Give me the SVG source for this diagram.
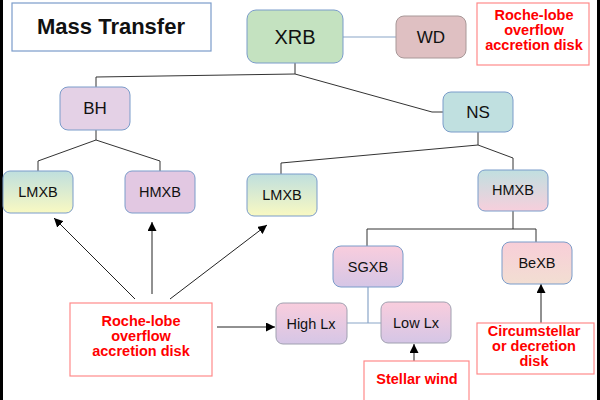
<svg xmlns="http://www.w3.org/2000/svg" width="600" height="400" viewBox="0 0 600 400">
<defs>
<linearGradient id="gLM" x1="0" y1="0" x2="0" y2="1"><stop offset="0" stop-color="#bfdfde"/><stop offset="1" stop-color="#f9f9c2"/></linearGradient>
<linearGradient id="gHM" x1="0" y1="0" x2="0" y2="1"><stop offset="0" stop-color="#c0dfe0"/><stop offset="1" stop-color="#f7cfdc"/></linearGradient>
<linearGradient id="gPL" x1="0" y1="0" x2="0" y2="1"><stop offset="0" stop-color="#f9cddd"/><stop offset="1" stop-color="#d5c6e6"/></linearGradient>
<linearGradient id="gBe" x1="0" y1="0" x2="0" y2="1"><stop offset="0" stop-color="#f8ced8"/><stop offset="1" stop-color="#f2ded2"/></linearGradient>
<marker id="ah" viewBox="0 0 10 10" refX="10" refY="5" markerWidth="9" markerHeight="9" markerUnits="userSpaceOnUse" orient="auto"><path d="M0,0 L10,5 L0,10 z" fill="#000"/></marker>
</defs>
<style>
.n{stroke:#7b9cca;stroke-width:1}
.t{font-family:"Liberation Sans",Arial,sans-serif;fill:#111;text-anchor:middle}
.r{font-family:"Liberation Sans",Arial,sans-serif;font-weight:bold;fill:#ff0000;text-anchor:middle;font-size:14.5px}
.rb{fill:#fff;stroke:#ff8a8a;stroke-width:1.2}
.c{fill:none;stroke:#333;stroke-width:1}
.cb{fill:none;stroke:#8aa6c8;stroke-width:1.2}
.a{fill:none;stroke:#222;stroke-width:1}
</style>
<rect x="0" y="0" width="600" height="400" fill="#fff"/>
<rect x="0" y="0" width="3" height="400" fill="#000"/>
<rect x="597" y="0" width="3" height="400" fill="#000"/>

<g id="connectors">
<path class="c" d="M295,63 V74 L96,77 V87"/>
<path class="c" d="M295,74 L432,112 H443"/>
<path class="cb" d="M343,37 H396"/>
<path class="c" d="M96,130 V140 L38,161 V171 M96,140 L160,161 V171"/>
<path class="c" d="M478,132 V145 L281,163 V174 M478,145 L513,158 V170"/>
<path class="c" d="M513,211 V229 M367,246 V229 H536 V242"/>
<path class="cb" d="M368,287 V323 M347,323 H381"/>
<path class="a" d="M135,299 L54,218" marker-end="url(#ah)"/>
<path class="a" d="M152,294 V222" stroke-width="1.6" marker-end="url(#ah)"/>
<path class="a" d="M170,299 L267,225" marker-end="url(#ah)"/>
<path class="a" d="M217,327 H275" marker-end="url(#ah)"/>
<path class="a" d="M414,361 V344" stroke-width="1.6" marker-end="url(#ah)"/>
<path class="a" d="M541,323 V284" stroke-width="1.6" marker-end="url(#ah)"/>
</g>

<g id="title"><rect x="12" y="3" width="199" height="48" fill="#fff" stroke="#7b9cca" stroke-width="1.2"/><text class="t" x="111" y="34" font-size="22" font-weight="bold" fill="#000">Mass Transfer</text></g>
<g id="xrb"><rect class="n" x="247" y="10" width="96" height="53" rx="9" fill="#c4e2c0"/><text class="t" x="295" y="44" font-size="20">XRB</text></g>
<g id="wd"><rect x="396" y="16" width="70" height="42" rx="8" fill="#dfc0c2" stroke="#a89898"/><text class="t" x="431" y="43" font-size="17">WD</text></g>
<g id="note-top"><rect class="rb" x="477" y="3" width="112" height="62"/><text class="r" x="534" y="20">Roche-lobe</text><text class="r" x="534" y="35">overflow</text><text class="r" x="534" y="50">accretion disk</text></g>
<g id="bh"><rect class="n" x="60" y="87" width="70" height="43" rx="8" fill="#e4d1e6"/><text class="t" x="95" y="114" font-size="17">BH</text></g>
<g id="ns"><rect class="n" x="443" y="92" width="70" height="40" rx="8" fill="#c0e0e0"/><text class="t" x="478" y="118" font-size="17">NS</text></g>
<g id="lmxb1"><rect class="n" x="3" y="171" width="70" height="42" rx="7" fill="url(#gLM)"/><text class="t" x="38" y="197" font-size="14.5">LMXB</text></g>
<g id="hmxb1"><rect class="n" x="125" y="171" width="70" height="42" rx="7" fill="#e2c8e2"/><text class="t" x="160" y="197" font-size="14.5">HMXB</text></g>
<g id="lmxb2"><rect class="n" x="247" y="174" width="70" height="42" rx="7" fill="url(#gLM)"/><text class="t" x="282" y="200" font-size="14.5">LMXB</text></g>
<g id="hmxb2"><rect class="n" x="478" y="170" width="70" height="41" rx="7" fill="url(#gHM)"/><text class="t" x="513" y="195" font-size="14.5">HMXB</text></g>
<g id="sgxb"><rect class="n" x="333" y="246" width="70" height="41" rx="8" fill="url(#gPL)"/><text class="t" x="368" y="272" font-size="14.5">SGXB</text></g>
<g id="bexb"><rect class="n" x="502" y="242" width="70" height="42" rx="8" fill="url(#gBe)"/><text class="t" x="537" y="268" font-size="14.5">BeXB</text></g>
<g id="highlx"><rect x="276" y="303" width="71" height="41" rx="7" fill="url(#gPL)" stroke="#a0a0b0"/><text class="t" x="311" y="329" font-size="14.5">High Lx</text></g>
<g id="lowlx"><rect x="381" y="302" width="70" height="41" rx="7" fill="url(#gPL)" stroke="#a0a0b0"/><text class="t" x="416" y="328" font-size="14.5">Low Lx</text></g>
<g id="note-left"><rect class="rb" x="70" y="303" width="142" height="73"/><text class="r" x="141" y="326">Roche-lobe</text><text class="r" x="141" y="341">overflow</text><text class="r" x="141" y="356">accretion disk</text></g>
<g id="note-wind"><rect class="rb" x="364" y="361" width="105" height="45"/><text class="r" x="417" y="384">Stellar wind</text></g>
<g id="note-circ"><rect class="rb" x="477" y="323" width="117" height="51"/><text class="r" x="534" y="336">Circumstellar</text><text class="r" x="534" y="351">or decretion</text><text class="r" x="534" y="366">disk</text></g>
</svg>
